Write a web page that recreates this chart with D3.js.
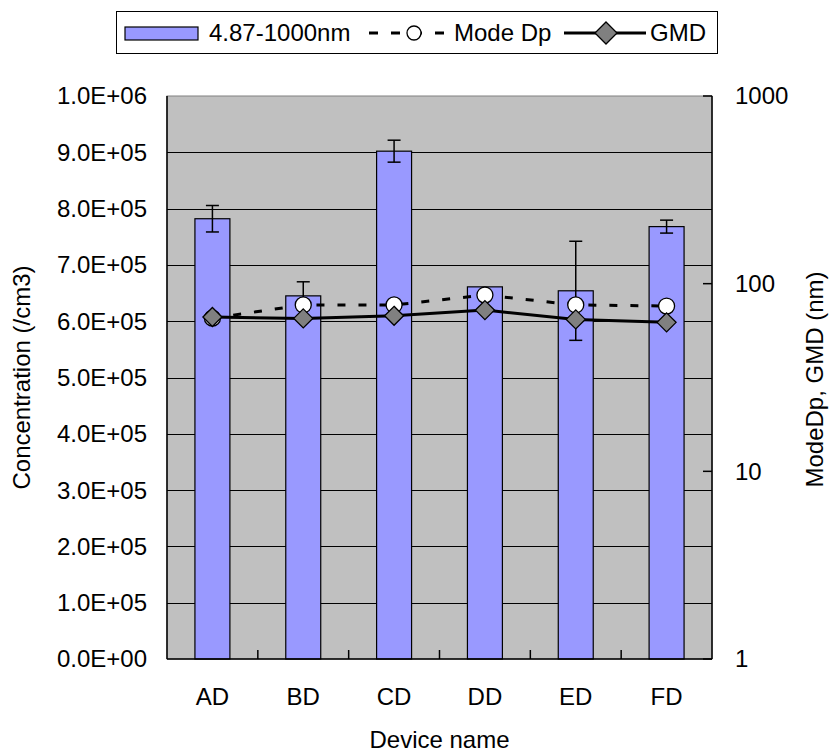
<!DOCTYPE html>
<html>
<head>
<meta charset="utf-8">
<script src="https://cdn.jsdelivr.net/npm/d3@7"></script>
<style>
  html, body { margin: 0; padding: 0; background: #fff; }
  svg { display: block; }
  text { font-family: "Liberation Sans", Arial, sans-serif; fill: #000; }
</style>
</head>
<body>
<svg id="chart" width="831" height="752"></svg>
<script>
// ---- data ----
const categories = ["AD", "BD", "CD", "DD", "ED", "FD"];
const concentration = [782000, 645000, 902000, 661000, 654000, 768000];
const concentrationErr = [23500, 25000, 19500, 0, 88000, 11500];
const modeDp = [65.5, 77, 77, 87, 77, 76];
const gmd = [66.4, 65.3, 67.4, 72.3, 64.5, 62.2];
const leftTicks = [0, 100000, 200000, 300000, 400000, 500000, 600000, 700000, 800000, 900000, 1000000];
const leftTickLabels = ["0.0E+00", "1.0E+05", "2.0E+05", "3.0E+05", "4.0E+05", "5.0E+05", "6.0E+05", "7.0E+05", "8.0E+05", "9.0E+05", "1.0E+06"];
const rightTicks = [1, 10, 100, 1000];
const legendLabels = ["4.87-1000nm", "Mode Dp", "GMD"];

// ---- layout ----
const svg = d3.select("#chart");
const plot = { left: 167, right: 712, top: 96, bottom: 659 };
const FS = 24;

const x = d3.scaleBand().domain(categories).range([plot.left, plot.right])
  .paddingInner(0.615).paddingOuter(0.3075);
const y = d3.scaleLinear().domain([0, 1000000]).range([plot.bottom, plot.top]);
const yR = d3.scaleLog().domain([1, 1000]).range([plot.bottom, plot.top]);
const cx = c => x(c) + x.bandwidth() / 2;

// plot background
svg.append("rect")
  .attr("x", plot.left).attr("y", plot.top)
  .attr("width", plot.right - plot.left).attr("height", plot.bottom - plot.top)
  .attr("fill", "#C0C0C0").attr("stroke", "#808080").attr("stroke-width", 1);

// gridlines
svg.append("g").selectAll("line")
  .data(leftTicks.filter(t => t > 0 && t < 1000000))
  .join("line")
  .attr("x1", plot.left).attr("x2", plot.right)
  .attr("y1", d => Math.round(y(d)) + 0.5).attr("y2", d => Math.round(y(d)) + 0.5)
  .attr("stroke", "#000").attr("stroke-width", 1);

// bars
svg.append("g").selectAll("rect")
  .data(categories)
  .join("rect")
  .attr("x", d => x(d))
  .attr("y", (d, i) => y(concentration[i]))
  .attr("width", x.bandwidth())
  .attr("height", (d, i) => plot.bottom - y(concentration[i]))
  .attr("fill", "#9999FF").attr("stroke", "#000").attr("stroke-width", 1.2);

// error bars
const eg = svg.append("g").attr("stroke", "#000").attr("stroke-width", 1.5);
categories.forEach((c, i) => {
  const e = concentrationErr[i];
  if (!e) return;
  const v = concentration[i];
  const xc = cx(c);
  eg.append("line").attr("x1", xc).attr("x2", xc).attr("y1", y(v + e)).attr("y2", y(v - e));
  eg.append("line").attr("x1", xc - 6.5).attr("x2", xc + 6.5).attr("y1", y(v + e)).attr("y2", y(v + e));
  eg.append("line").attr("x1", xc - 6.5).attr("x2", xc + 6.5).attr("y1", y(v - e)).attr("y2", y(v - e));
});

// axes lines
const ax = svg.append("g").attr("stroke", "#000").attr("stroke-width", 1.5);
ax.append("line").attr("x1", plot.left).attr("x2", plot.left).attr("y1", plot.top).attr("y2", plot.bottom);
ax.append("line").attr("x1", plot.left).attr("x2", plot.right).attr("y1", plot.bottom).attr("y2", plot.bottom);
ax.append("line").attr("x1", plot.right).attr("x2", plot.right).attr("y1", plot.top).attr("y2", plot.bottom);

// x ticks (category boundaries, inward)
const bounds = categories.slice(1).map(c => x(c) - x.step() * x.paddingInner() / 2);
ax.selectAll(".xt").data(bounds).join("line")
  .attr("x1", d => d).attr("x2", d => d)
  .attr("y1", plot.bottom).attr("y2", plot.bottom - 9);

// right ticks (inward)
ax.selectAll(".rt").data(rightTicks).join("line")
  .attr("x1", plot.right).attr("x2", plot.right - 9)
  .attr("y1", d => yR(d)).attr("y2", d => yR(d));

// left tick labels
svg.append("g").selectAll("text").data(leftTicks).join("text")
  .attr("x", 147).attr("y", d => y(d))
  .attr("dy", "0.35em").attr("text-anchor", "end")
  .attr("font-size", FS)
  .text((d, i) => leftTickLabels[i]);

// right tick labels
svg.append("g").selectAll("text").data(rightTicks).join("text")
  .attr("x", 735).attr("y", d => yR(d))
  .attr("dy", "0.35em").attr("text-anchor", "start")
  .attr("font-size", FS)
  .text(d => d3.format("d")(d));

// category labels
svg.append("g").selectAll("text").data(categories).join("text")
  .attr("x", d => cx(d)).attr("y", 697)
  .attr("dy", "0.35em").attr("text-anchor", "middle")
  .attr("font-size", FS)
  .text(d => d);

// axis titles
svg.append("text")
  .attr("transform", `translate(22,${(plot.top + plot.bottom) / 2}) rotate(-90)`)
  .attr("text-anchor", "middle").attr("dy", "0.35em")
  .attr("font-size", FS).text("Concentration (/cm3)");
svg.append("text")
  .attr("transform", `translate(815,${(plot.top + plot.bottom) / 2 + 2}) rotate(-90)`)
  .attr("text-anchor", "middle").attr("dy", "0.35em")
  .attr("font-size", FS).text("ModeDp, GMD (nm)");
svg.append("text")
  .attr("x", (plot.left + plot.right) / 2).attr("y", 740)
  .attr("dy", "0.35em").attr("text-anchor", "middle")
  .attr("font-size", FS).text("Device name");

// lines
const lineGen = arr => d3.line().x((d, i) => cx(categories[i])).y(d => yR(d))(arr);
svg.append("path").attr("d", lineGen(modeDp))
  .attr("fill", "none").attr("stroke", "#000").attr("stroke-width", 3)
  .attr("stroke-dasharray", "8,13");
svg.append("path").attr("d", lineGen(gmd))
  .attr("fill", "none").attr("stroke", "#000").attr("stroke-width", 3);

// markers
const diamond = (xc, yc, r) => `M${xc},${yc - r}L${xc + r},${yc}L${xc},${yc + r}L${xc - r},${yc}Z`;
svg.append("g").selectAll("circle").data(modeDp).join("circle")
  .attr("cx", (d, i) => cx(categories[i])).attr("cy", d => yR(d))
  .attr("r", 8).attr("fill", "#fff").attr("stroke", "#000").attr("stroke-width", 1.3);
svg.append("g").selectAll("path").data(gmd).join("path")
  .attr("d", (d, i) => diamond(cx(categories[i]), yR(d), 9.5))
  .attr("fill", "#808080").attr("stroke", "#000").attr("stroke-width", 1.3);

// legend
const lg = svg.append("g");
const ly = 33;
lg.append("rect").attr("x", 116.5).attr("y", 11.5).attr("width", 601).attr("height", 42)
  .attr("fill", "#fff").attr("stroke", "#000").attr("stroke-width", 1);
lg.append("rect").attr("x", 125).attr("y", 27).attr("width", 73).attr("height", 13)
  .attr("fill", "#9999FF").attr("stroke", "#000").attr("stroke-width", 1.2);
lg.append("text").attr("x", 209).attr("y", ly).attr("dy", "0.35em").attr("font-size", FS).text(legendLabels[0]);
lg.append("line").attr("x1", 369).attr("x2", 444).attr("y1", ly).attr("y2", ly)
  .attr("stroke", "#000").attr("stroke-width", 3).attr("stroke-dasharray", "9,13");
lg.append("circle").attr("cx", 414).attr("cy", ly).attr("r", 7)
  .attr("fill", "#fff").attr("stroke", "#000").attr("stroke-width", 1.3);
lg.append("text").attr("x", 454).attr("y", ly).attr("dy", "0.35em").attr("font-size", FS).text(legendLabels[1]);
lg.append("line").attr("x1", 564).attr("x2", 646).attr("y1", ly).attr("y2", ly)
  .attr("stroke", "#000").attr("stroke-width", 3);
lg.append("path").attr("d", diamond(606, ly, 11))
  .attr("fill", "#808080").attr("stroke", "#000").attr("stroke-width", 1.3);
lg.append("text").attr("x", 650).attr("y", ly).attr("dy", "0.35em").attr("font-size", FS).text(legendLabels[2]);
</script>
</body>
</html>
